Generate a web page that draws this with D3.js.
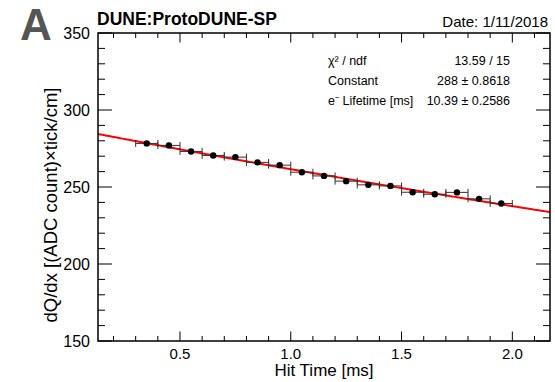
<!DOCTYPE html>
<html><head><meta charset="utf-8">
<script src="https://cdn.jsdelivr.net/npm/d3@7"></script>
<style>body{margin:0;background:#fff}svg{display:block;font-family:"Liberation Sans",Arial,Helvetica,sans-serif}</style>
</head><body><svg id="c" width="555" height="382"></svg>
<script>
// Data
const hitTime = [0.35,0.45,0.55,0.65,0.75,0.85,0.95,1.05,1.15,1.25,1.35,1.45,1.55,1.65,1.75,1.85,1.95];
const dQdx    = [278.3,277.0,273.1,270.5,269.4,266.0,264.2,259.6,257.2,253.8,251.4,250.7,246.6,245.3,246.5,242.3,239.3];
const binHalfWidth = 0.05;
const fitConstant = 288, fitLifetime = 10.39;
const xTicks = [0.5,1.0,1.5,2.0];
const yTicks = [150,200,250,300,350];
const statsNames = ["\u03c7\u00b2 / ndf","Constant","e\u207b Lifetime [ms]"];
const statsValues = ["13.59 / 15","288 \u00b1 0.8618","10.39 \u00b1 0.2586"];

const svg = d3.select("#c");
const L=98, R=550, T=33, B=341;
const x = d3.scaleLinear().domain([0.13,2.17]).range([L,R]);
const y = d3.scaleLinear().domain([150,350]).range([B,T]);

// ticks
const g = svg.append("g").attr("stroke","#000").attr("stroke-width",1);
const xMinor = d3.range(0.2,2.17,0.1).map(v=>+v.toFixed(2));
xMinor.forEach(v=>{
  const major = xTicks.some(t=>Math.abs(t-v)<1e-6);
  const len = major?9.5:5;
  g.append("line").attr("x1",x(v)).attr("x2",x(v)).attr("y1",B).attr("y2",B-len);
  g.append("line").attr("x1",x(v)).attr("x2",x(v)).attr("y1",T).attr("y2",T+len);
});
d3.range(150,351,10).forEach(v=>{
  const major = v%50===0;
  const len = major?14:7;
  g.append("line").attr("x1",L).attr("x2",L+len).attr("y1",y(v)).attr("y2",y(v));
  g.append("line").attr("x1",R).attr("x2",R-len).attr("y1",y(v)).attr("y2",y(v));
});

// fit curve
const fx = d3.range(0.13,2.1701,0.01);
svg.append("path").datum(fx)
  .attr("d", d3.line().x(d=>x(d)).y(d=>y(fitConstant*Math.exp(-d/fitLifetime))))
  .attr("fill","none").attr("stroke","#ff0000").attr("stroke-width",2);

// error bars
const eb = svg.append("g").attr("stroke","#333").attr("stroke-width",1);
hitTime.forEach((t,i)=>{
  const yy = y(dQdx[i]);
  eb.append("line").attr("x1",x(t-binHalfWidth)).attr("x2",x(t+binHalfWidth)).attr("y1",yy).attr("y2",yy);
  [t-binHalfWidth,t+binHalfWidth].forEach(e=>{
    eb.append("line").attr("x1",x(e)).attr("x2",x(e)).attr("y1",yy-3.5).attr("y2",yy+3.5);
  });
});
svg.append("g").selectAll("circle").data(hitTime).join("circle")
  .attr("cx",d=>x(d)).attr("cy",(d,i)=>y(dQdx[i])).attr("r",3.2).attr("fill","#000");

// frame
svg.append("rect").attr("x",L).attr("y",T).attr("width",R-L).attr("height",B-T)
  .attr("fill","none").attr("stroke","#000").attr("stroke-width",1.5);

// tick labels
svg.append("g").selectAll("text").data(xTicks).join("text")
  .attr("x",d=>x(d)).attr("y",359).attr("text-anchor","middle").attr("font-size",15)
  .text(d=>d.toFixed(1));
svg.append("g").selectAll("text").data(yTicks).join("text")
  .attr("x",90).attr("y",d=>y(d)+5.5).attr("text-anchor","end").attr("font-size",16)
  .text(d=>d);

// axis titles
svg.append("text").attr("x",(L+R)/2).attr("y",376).attr("text-anchor","middle").attr("font-size",17).text("Hit Time [ms]");
svg.append("text").attr("transform","translate(57,205) rotate(-90)").attr("text-anchor","middle").attr("font-size",18.5)
  .text("dQ/dx [(ADC count)\u00d7tick/cm]");

// header
svg.append("text").attr("x",20).attr("y",39.5).attr("font-size",44).attr("font-weight","bold").attr("fill","#555").text("A");
svg.append("text").attr("x",97).attr("y",25).attr("font-size",17.5).attr("font-weight","bold").text("DUNE:ProtoDUNE-SP");
svg.append("text").attr("x",548).attr("y",27).attr("text-anchor","end").attr("font-size",15).text("Date: 1/11/2018");

// stats
statsNames.forEach((n,i)=>{
  svg.append("text").attr("x",328).attr("y",65+i*20).attr("font-size",12.5).text(n);
  svg.append("text").attr("x",510).attr("y",65+i*20).attr("text-anchor","end").attr("font-size",12.5).text(statsValues[i]);
});
</script></body></html>
